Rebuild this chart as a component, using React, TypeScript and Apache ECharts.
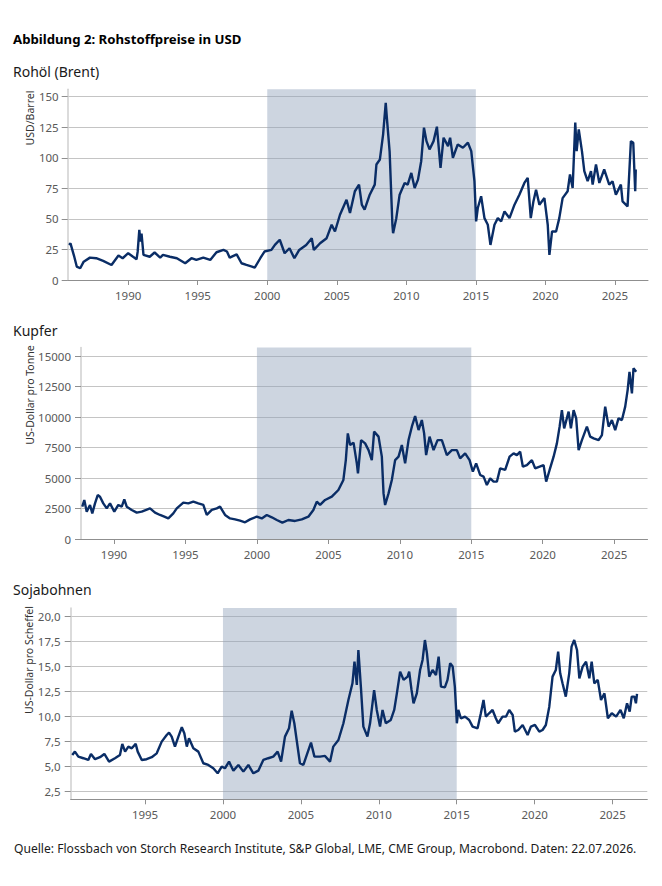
import React, { useEffect, useRef } from "react";
import * as echarts from "echarts";

// Jahres-Ticks der Zeitachse und Werte-Ticks je Rohstoff
const yearTicks = [1990, 1995, 2000, 2005, 2010, 2015, 2020, 2025];
const brentTicks = [0, 25, 50, 75, 100, 125, 150];
const copperTicks = [0, 2500, 5000, 7500, 10000, 12500, 15000];
const soyTicks = [2.5, 5, 7.5, 10, 12.5, 15, 17.5, 20];

// hinterlegter Zeitraum
const shadedPeriod = [2000, 2015];

// Brent, USD je Barrel (Jahr als Dezimalzahl, Preis)
const brent: [number, number][] = [
  [1985.75, 28.7], [1985.85, 30.0], [1986.1, 20.0], [1986.3, 11.0], [1986.55, 9.6], [1986.8, 15.0],
  [1987.25, 18.3], [1987.7, 17.8], [1988.2, 15.6], [1988.8, 12.3], [1989.3, 20.0], [1989.6, 17.8],
  [1990.0, 21.9], [1990.35, 19.0], [1990.6, 17.0], [1990.68, 23.0], [1990.8, 41.0], [1990.88, 31.5],
  [1990.96, 38.0], [1991.1, 20.5], [1991.55, 19.0], [1991.9, 22.5], [1992.3, 18.3], [1992.5, 20.5],
  [1993.0, 19.0], [1993.5, 17.8], [1994.1, 13.7], [1994.55, 17.8], [1994.9, 16.4], [1995.4, 18.3],
  [1995.9, 16.4], [1996.35, 22.7], [1996.85, 24.6], [1997.1, 23.3], [1997.3, 18.3], [1997.8, 21.0],
  [1998.15, 13.7], [1998.5, 12.3], [1998.9, 11.0], [1999.1, 10.1], [1999.5, 17.8], [1999.8, 23.3],
  [2000.3, 24.6], [2000.55, 28.7], [2000.9, 32.9], [2001.25, 21.9], [2001.6, 26.0], [2001.95, 17.8],
  [2002.3, 24.6], [2002.8, 28.7], [2003.2, 34.2], [2003.35, 24.6], [2003.8, 30.1], [2004.27, 34.2],
  [2004.63, 45.2], [2004.87, 39.7], [2005.23, 53.4], [2005.7, 65.7], [2005.95, 54.8], [2006.3, 72.6],
  [2006.6, 78.0], [2006.8, 61.6], [2007.0, 57.5], [2007.37, 69.8], [2007.73, 78.0], [2007.85, 94.5],
  [2008.1, 98.6], [2008.33, 119.0], [2008.52, 145.0], [2008.6, 132.8], [2008.8, 105.0], [2009.0, 45.0],
  [2009.05, 38.3], [2009.28, 50.6], [2009.52, 69.8], [2009.88, 79.4], [2010.1, 78.0], [2010.36, 87.6],
  [2010.6, 75.3], [2010.84, 82.1], [2011.07, 97.2], [2011.27, 124.6], [2011.45, 113.6], [2011.67, 106.8],
  [2011.96, 113.6], [2012.2, 125.4], [2012.46, 91.7], [2012.68, 116.4], [2013.0, 109.5], [2013.15, 116.4],
  [2013.35, 100.0], [2013.7, 110.9], [2014.07, 108.2], [2014.43, 112.3], [2014.67, 105.4], [2014.9, 80.8],
  [2015.02, 47.9], [2015.14, 58.9], [2015.38, 68.5], [2015.62, 50.6], [2015.86, 45.2], [2016.05, 28.7],
  [2016.34, 45.2], [2016.58, 50.6], [2016.82, 47.9], [2017.06, 56.1], [2017.42, 50.6], [2017.78, 61.6],
  [2018.13, 69.8], [2018.49, 79.4], [2018.73, 83.5], [2018.95, 50.6], [2019.14, 64.3], [2019.33, 73.9],
  [2019.57, 61.6], [2019.93, 67.0], [2020.17, 45.2], [2020.29, 20.5], [2020.48, 39.7], [2020.77, 39.7],
  [2021.0, 50.6], [2021.24, 67.0], [2021.6, 72.6], [2021.77, 86.3], [2021.96, 75.3], [2022.15, 128.7],
  [2022.25, 105.4], [2022.4, 123.2], [2022.63, 105.4], [2022.8, 89.0], [2023.04, 80.8], [2023.28, 89.0],
  [2023.4, 78.0], [2023.64, 94.5], [2023.88, 79.4], [2024.23, 90.4], [2024.59, 78.0], [2024.83, 80.8],
  [2025.07, 69.8], [2025.43, 78.0], [2025.55, 64.3], [2025.91, 60.2], [2026.15, 113.6], [2026.32, 112.3],
  [2026.46, 72.6], [2026.5, 90.4],
];

// Kupfer, US-Dollar je Tonne
const copper: [number, number][] = [
  [1987.78, 2650], [1987.92, 3200], [1988.09, 2240], [1988.32, 2790], [1988.48, 2100], [1988.67, 2920],
  [1988.86, 3600], [1989.02, 3470], [1989.25, 2920], [1989.49, 2510], [1989.72, 2920], [1990.02, 2240],
  [1990.3, 2790], [1990.54, 2650], [1990.72, 3250], [1990.89, 2650], [1991.24, 2380], [1991.59, 2160],
  [1991.94, 2240], [1992.52, 2510], [1992.87, 2160], [1993.22, 1970], [1993.52, 1830], [1993.8, 1690],
  [1994.15, 2100], [1994.39, 2510], [1994.85, 2980], [1995.2, 2920], [1995.55, 3060], [1995.9, 2920],
  [1996.25, 2790], [1996.49, 1970], [1996.84, 2380], [1997.19, 2510], [1997.42, 2650], [1997.77, 1970],
  [1998.12, 1690], [1998.47, 1610], [1998.82, 1500], [1999.17, 1370], [1999.52, 1610], [1999.99, 1830],
  [2000.34, 1690], [2000.69, 1970], [2001.04, 1780], [2001.39, 1560], [2001.78, 1340], [2002.2, 1560],
  [2002.67, 1480], [2003.14, 1610], [2003.6, 1830], [2003.95, 2380], [2004.19, 3060], [2004.42, 2790],
  [2004.77, 3200], [2005.24, 3470], [2005.7, 4020], [2006.05, 4840], [2006.22, 6470], [2006.36, 8660],
  [2006.52, 7700], [2006.76, 7900], [2006.99, 6200], [2007.07, 5380], [2007.29, 8110], [2007.57, 7840],
  [2007.81, 7290], [2008.04, 6470], [2008.2, 8800], [2008.51, 8390], [2008.74, 6750], [2008.86, 3740],
  [2008.97, 2790], [2009.21, 3740], [2009.44, 4840], [2009.67, 6470], [2009.91, 6750], [2010.14, 7700],
  [2010.37, 6200], [2010.61, 8110], [2010.84, 9210], [2011.07, 10080], [2011.31, 8930], [2011.54, 9750],
  [2011.7, 8660], [2011.84, 6880], [2012.08, 8390], [2012.36, 7290], [2012.64, 8110], [2012.94, 8110],
  [2013.29, 6880], [2013.64, 7290], [2013.99, 7290], [2014.22, 6610], [2014.57, 7020], [2014.88, 6470],
  [2015.11, 5520], [2015.34, 6200], [2015.62, 5250], [2015.86, 5110], [2016.09, 4430], [2016.32, 4970],
  [2016.56, 4700], [2016.79, 4700], [2017.02, 5790], [2017.37, 5660], [2017.68, 6750], [2017.96, 7020],
  [2018.19, 6880], [2018.42, 7160], [2018.61, 5930], [2018.89, 6060], [2019.24, 6470], [2019.47, 5790],
  [2019.78, 5930], [2020.06, 6060], [2020.24, 4700], [2020.48, 5660], [2020.76, 6750], [2020.99, 7840],
  [2021.18, 9210], [2021.34, 10570], [2021.5, 9070], [2021.81, 10440], [2021.97, 9070], [2022.16, 10570],
  [2022.34, 9890], [2022.51, 7290], [2022.74, 8110], [2023.09, 9210], [2023.32, 8390], [2023.56, 8250],
  [2023.91, 8110], [2024.14, 8520], [2024.37, 10850], [2024.61, 9210], [2024.84, 9750], [2025.07, 8930],
  [2025.3, 9890], [2025.54, 9750], [2025.77, 10850], [2025.94, 12210], [2026.07, 13710], [2026.24, 11940],
  [2026.35, 13990], [2026.54, 13710],
];

// Sojabohnen, US-Dollar je Scheffel
const soybeans: [number, number][] = [
  [1990.33, 6.13], [1990.5, 6.46], [1990.72, 5.96], [1991.04, 5.8], [1991.36, 5.63], [1991.53, 6.23],
  [1991.79, 5.7], [1992.11, 5.9], [1992.39, 6.23], [1992.69, 5.46], [1993.07, 5.8], [1993.39, 6.13],
  [1993.54, 7.23], [1993.72, 6.46], [1993.93, 6.96], [1994.15, 6.79], [1994.4, 7.23], [1994.53, 6.46],
  [1994.79, 5.63], [1995.1, 5.7], [1995.43, 5.9], [1995.75, 6.29], [1996.07, 7.46], [1996.39, 8.12],
  [1996.54, 8.36], [1996.71, 7.96], [1996.92, 6.96], [1997.14, 7.96], [1997.36, 8.89], [1997.52, 8.29],
  [1997.68, 6.96], [1997.82, 7.79], [1998.1, 6.79], [1998.42, 6.46], [1998.74, 5.3], [1999.06, 5.13],
  [1999.38, 4.8], [1999.66, 4.3], [1999.92, 4.96], [2000.13, 4.8], [2000.39, 5.46], [2000.67, 4.56],
  [2000.99, 5.13], [2001.31, 4.46], [2001.63, 5.13], [2001.95, 4.3], [2002.27, 4.56], [2002.59, 5.63],
  [2002.91, 5.8], [2003.23, 5.96], [2003.51, 6.46], [2003.73, 5.46], [2003.98, 7.96], [2004.24, 8.79],
  [2004.41, 10.55], [2004.58, 9.29], [2004.73, 7.62], [2004.94, 5.3], [2005.16, 5.13], [2005.38, 6.13],
  [2005.65, 7.36], [2005.87, 5.96], [2006.23, 5.96], [2006.55, 6.03], [2006.87, 5.46], [2007.08, 6.96],
  [2007.41, 7.62], [2007.73, 9.29], [2008.05, 11.62], [2008.31, 13.28], [2008.44, 15.44], [2008.59, 13.12],
  [2008.69, 16.61], [2008.85, 12.95], [2009.01, 8.96], [2009.27, 7.96], [2009.44, 9.29], [2009.7, 12.6],
  [2009.87, 10.62], [2010.08, 8.96], [2010.24, 10.62], [2010.45, 9.29], [2010.77, 9.62], [2010.99, 10.62],
  [2011.16, 12.28], [2011.37, 14.45], [2011.59, 13.62], [2011.85, 13.95], [2011.95, 14.45], [2012.1, 12.62],
  [2012.23, 11.29], [2012.44, 12.28], [2012.65, 14.61], [2012.81, 15.61], [2012.96, 17.6], [2013.09, 16.28],
  [2013.24, 13.95], [2013.45, 14.61], [2013.67, 14.11], [2013.84, 15.94], [2013.99, 12.95], [2014.24, 12.88],
  [2014.41, 13.62], [2014.58, 15.28], [2014.74, 14.95], [2014.88, 12.95], [2015.01, 9.29], [2015.1, 10.62],
  [2015.27, 9.79], [2015.53, 9.95], [2015.8, 9.62], [2016.02, 8.96], [2016.34, 8.79], [2016.55, 10.29],
  [2016.72, 11.62], [2016.87, 9.95], [2017.08, 10.29], [2017.3, 10.62], [2017.51, 9.79], [2017.66, 9.29],
  [2017.94, 9.95], [2018.16, 9.95], [2018.37, 10.62], [2018.59, 10.12], [2018.73, 8.46], [2018.95, 8.62],
  [2019.23, 9.12], [2019.55, 8.12], [2019.76, 8.96], [2020.02, 9.12], [2020.3, 8.46], [2020.51, 8.62],
  [2020.72, 9.12], [2020.94, 10.95], [2021.15, 13.95], [2021.36, 14.61], [2021.51, 16.44], [2021.64, 14.28],
  [2021.79, 13.28], [2022.0, 11.95], [2022.22, 14.28], [2022.37, 16.94], [2022.54, 17.6], [2022.72, 16.61],
  [2022.87, 13.78], [2023.08, 14.95], [2023.3, 15.44], [2023.51, 13.78], [2023.66, 15.44], [2023.83, 13.28],
  [2024.05, 13.62], [2024.26, 11.62], [2024.48, 12.28], [2024.7, 9.79], [2024.95, 10.29], [2025.23, 9.95],
  [2025.51, 10.62], [2025.72, 9.79], [2025.93, 11.29], [2026.1, 10.45], [2026.23, 11.95], [2026.4, 11.95],
  [2026.5, 11.29], [2026.57, 12.22],
];

const FONT = '"Noto Sans", "Open Sans", sans-serif';
const LINE_COLOR = "#0a2d66";
const LABEL_COLOR = "#595959";

type Panel = {
  data: [number, number][];
  grid: { left: number; top: number; width: number; height: number };
  xRange: [number, number];
  yRange: [number, number];
  yTicks: number[];
  yFormat: (v: number) => string;
  yLabelMargin: number;
};

const panels: Panel[] = [
  {
    data: brent,
    grid: { left: 67.7, top: 89.3, width: 580.3, height: 190.7 },
    xRange: [1985.65, 2027.38],
    yRange: [0, 156],
    yTicks: brentTicks,
    yFormat: (v) => String(v),
    yLabelMargin: 9,
  },
  {
    data: copper,
    grid: { left: 81, top: 347.5, width: 566.5, height: 191.5 },
    xRange: [1987.69, 2027.33],
    yRange: [0, 15700],
    yTicks: copperTicks,
    yFormat: (v) => String(v),
    yLabelMargin: 10,
  },
  {
    data: soybeans,
    grid: { left: 70.7, top: 608, width: 576.6, height: 191.3 },
    xRange: [1990.23, 2027.23],
    yRange: [1.7, 20.8],
    yTicks: soyTicks,
    yFormat: (v) => v.toFixed(1).replace(".", ","),
    yLabelMargin: 10,
  },
];

function buildOption() {
  const grids = panels.map((p) => ({ ...p.grid, containLabel: false }));
  const xAxes = panels.map((p, i) => ({
    type: "value",
    gridIndex: i,
    min: p.xRange[0],
    max: p.xRange[1],
    axisLine: { show: true, lineStyle: { color: "#8f8f8f", width: 1 } },
    axisTick: {
      show: true,
      customValues: yearTicks,
      length: 5,
      lineStyle: { color: "#8f8f8f" },
    },
    axisLabel: {
      customValues: yearTicks,
      formatter: (v: number) => String(Math.round(v)),
      color: LABEL_COLOR,
      fontFamily: FONT,
      fontSize: 11.5,
      margin: 9,
    },
    splitLine: { show: false },
  }));
  const yAxes = panels.map((p, i) => ({
    type: "value",
    gridIndex: i,
    min: p.yRange[0],
    max: p.yRange[1],
    axisLine: { show: true, lineStyle: { color: "#cfcfcf", width: 1.5 } },
    axisTick: {
      show: true,
      customValues: p.yTicks,
      length: 6,
      lineStyle: { color: "#8f8f8f" },
    },
    axisLabel: {
      customValues: p.yTicks,
      formatter: p.yFormat,
      color: LABEL_COLOR,
      fontFamily: FONT,
      fontSize: 11.5,
      margin: p.yLabelMargin,
    },
    splitLine: { show: true, lineStyle: { color: "#c4c4c4", width: 1 } },
  }));
  const series = panels.map((p, i) => ({
    type: "line",
    xAxisIndex: i,
    yAxisIndex: i,
    data: p.data,
    showSymbol: false,
    symbol: "none",
    lineStyle: { color: LINE_COLOR, width: 2.4 },
    z: 3,
    silent: true,
    markArea: {
      silent: true,
      itemStyle: { color: "rgba(144,162,186,0.45)" },
      data: [[{ xAxis: shadedPeriod[0] }, { xAxis: shadedPeriod[1] }]],
    },
  }));

  const text = (
    str: string,
    x: number,
    y: number,
    size: number,
    extra: Record<string, unknown> = {},
    rotation = 0
  ) => ({
    type: "text",
    x,
    y,
    rotation,
    style: {
      text: str,
      fontFamily: FONT,
      fontSize: size,
      fill: "#1a1a1a",
      textVerticalAlign: "middle",
      ...extra,
    },
  });

  const graphic = [
    text("Abbildung 2: Rohstoffpreise in USD", 13, 39, 13.2, { fontWeight: "bold", fill: "#000" }),
    text("Rohöl (Brent)", 13, 71, 14),
    text("Kupfer", 13, 330, 14),
    text("Sojabohnen", 13, 589, 14),
    text("USD/Barrel", 30, 118, 10.5, { textAlign: "center", fill: "#333" }, Math.PI / 2),
    text("US-Dollar pro Tonne", 30, 395, 10.5, { textAlign: "center", fill: "#333" }, Math.PI / 2),
    text("US-Dollar pro Scheffel", 29, 660, 10.5, { textAlign: "center", fill: "#333" }, Math.PI / 2),
    text(
      "Quelle: Flossbach von Storch Research Institute, S&P Global, LME, CME Group, Macrobond. Daten: 22.07.2026.",
      14,
      848,
      12.1
    ),
  ];

  return {
    animation: false,
    backgroundColor: "#ffffff",
    grid: grids,
    xAxis: xAxes,
    yAxis: yAxes,
    series,
    graphic,
  };
}

export default function App() {
  const ref = useRef<HTMLDivElement>(null);

  useEffect(() => {
    if (!ref.current) return;
    const chart = echarts.init(ref.current, undefined, { renderer: "svg" });
    chart.setOption(buildOption() as any);
    return () => chart.dispose();
  }, []);

  return (
    <div
      ref={ref}
      style={{ position: "fixed", left: 0, top: 0, width: 662, height: 886, background: "#fff" }}
    />
  );
}
